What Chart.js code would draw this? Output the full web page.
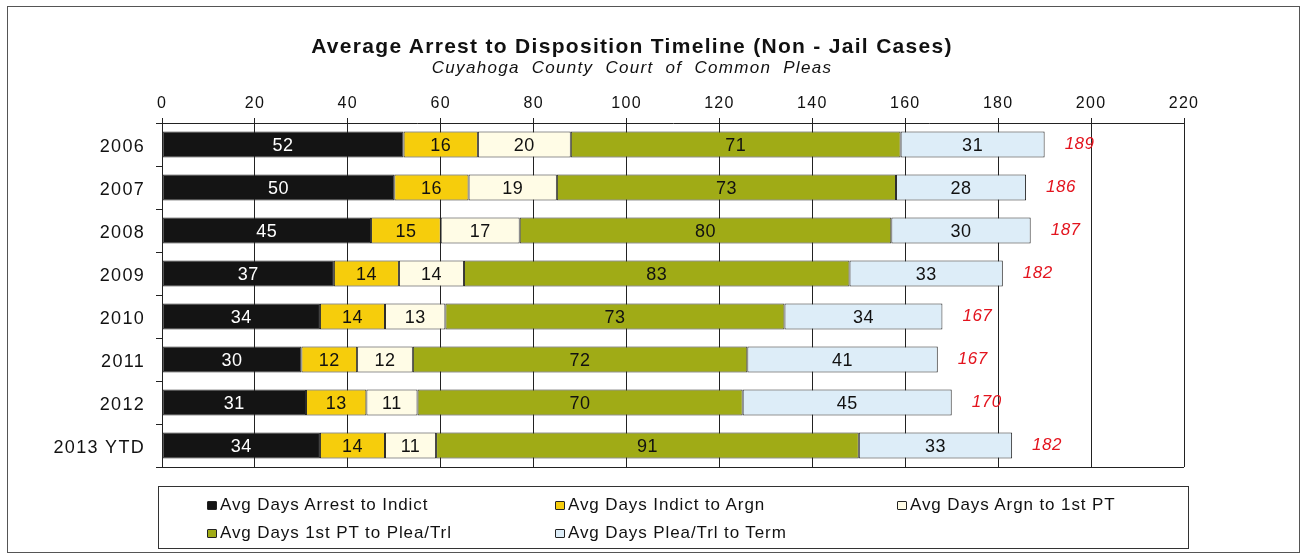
<!DOCTYPE html>
<html><head><meta charset="utf-8">
<script src="https://cdn.jsdelivr.net/npm/chart.js@4"></script>
<style>
html,body{margin:0;padding:0;background:#fff;}
#wrap{position:relative;width:1306px;height:558px;overflow:hidden;background:#fff;font-family:"Liberation Sans",Arial,sans-serif;color:#111;}
#frame{position:absolute;left:7px;top:6px;width:1291px;height:545px;border:1px solid #555;}
#c{position:absolute;left:0;top:0;}
#title{position:absolute;left:0;width:1264px;top:34px;line-height:24px;text-align:center;font-weight:bold;font-size:21px;letter-spacing:1.3px;white-space:pre;}
#subtitle{position:absolute;left:0;width:1264px;top:58px;line-height:20px;text-align:center;font-style:italic;font-size:17px;letter-spacing:1.3px;white-space:pre;}
#legend{position:absolute;left:158px;top:486px;width:1029px;height:61px;border:1px solid #333;font-size:17px;}
.li{position:absolute;display:flex;align-items:center;white-space:nowrap;letter-spacing:0.9px;transform:translateY(-50%);}
.sw{width:8px;height:7px;border:1px solid #222;border-radius:1px;margin-right:3px;}
</style></head>
<body>
<div id="wrap">
<div id="frame"></div>
<canvas id="c" width="1306" height="558"></canvas>
<div id="title"></div>
<div id="subtitle"></div>
<div id="legend"></div>
</div>
<script>
const categories = ['2006','2007','2008','2009','2010','2011','2012','2013 YTD'];
const seriesNames = ['Avg Days Arrest to Indict','Avg Days Indict to Argn','Avg Days Argn to 1st PT','Avg Days 1st PT to Plea/Trl','Avg Days Plea/Trl to Term'];
const arrestToIndict = [52,50,45,37,34,30,31,34];
const indictToArgn   = [16,16,15,14,14,12,13,14];
const argnTo1stPT    = [20,19,17,14,13,12,11,11];
const firstPTToPlea  = [71,73,80,83,73,72,70,91];
const pleaToTerm     = [31,28,30,33,34,41,45,33];
const totals         = [189,186,187,182,167,167,170,182];
const xTicksMin = 0, xTicksMax = 220, xTickStep = 20;
const seriesColors = ['#141414','#F6CD0C','#FFFCE6','#A0AB16','#DDEDF8'];
const labelColors  = ['#ffffff','#111111','#111111','#111111','#111111'];
const titleText = 'Average Arrest to Disposition Timeline (Non - Jail Cases)';
const subtitleText = 'Cuyahoga  County  Court  of  Common  Pleas';
const FONT = '"Liberation Sans", Arial, sans-serif';
const LS = '1.3px';

document.getElementById('title').textContent = titleText;
document.getElementById('subtitle').textContent = subtitleText;

const seriesValues = [arrestToIndict, indictToArgn, argnTo1stPT, firstPTToPlea, pleaToTerm];

const spacing = {
  id:'spacing',
  beforeUpdate(chart){ chart.ctx.letterSpacing = LS; },
  beforeDraw(chart){ chart.ctx.letterSpacing = LS; }
};

const frameLines = {
  id:'frameLines',
  afterDraw(chart){
    const {ctx, chartArea:a} = chart;
    ctx.save();
    ctx.strokeStyle = '#222'; ctx.lineWidth = 1;
    ctx.beginPath();
    ctx.moveTo(a.left, Math.round(a.bottom)+0.5);
    ctx.lineTo(a.right, Math.round(a.bottom)+0.5);
    ctx.stroke();
    ctx.restore();
  }
};

const valueLabels = {
  id:'valueLabels',
  afterDatasetsDraw(chart){
    const ctx = chart.ctx;
    ctx.save();
    ctx.letterSpacing = '0.5px';
    ctx.font = '18px ' + FONT;
    ctx.textAlign = 'center';
    ctx.textBaseline = 'middle';
    chart.data.datasets.forEach((ds, i) => {
      const meta = chart.getDatasetMeta(i);
      meta.data.forEach((el, j) => {
        const p = el.getProps(['x','base','y'], true);
        ctx.fillStyle = labelColors[i];
        ctx.fillText(String(ds.data[j]), (p.x + p.base) / 2, p.y + 2);
      });
    });
    const last = chart.getDatasetMeta(chart.data.datasets.length - 1);
    ctx.font = 'italic 17px ' + FONT;
    ctx.fillStyle = '#E3141E';
    ctx.textAlign = 'left';
    last.data.forEach((el, j) => {
      ctx.fillText(String(totals[j]), el.x + 20, el.y);
    });
    ctx.restore();
  }
};

const chart = new Chart(document.getElementById('c'), {
  type: 'bar',
  data: {
    labels: categories,
    datasets: seriesValues.map((vals, i) => ({
      label: seriesNames[i],
      data: vals,
      backgroundColor: seriesColors[i],
      borderColor: '#2a2a2a',
      borderWidth: 1,
      borderSkipped: false,
      categoryPercentage: 1,
      barPercentage: 0.6
    }))
  },
  options: {
    indexAxis: 'y',
    responsive: false,
    animation: false,
    devicePixelRatio: 1,
    layout: { padding: { left: 10, right: 122, top: 88, bottom: 91 } },
    plugins: {
      legend: { display: false },
      tooltip: { enabled: false },
      title: { display: false },
      subtitle: { display: false }
    },
    scales: {
      x: {
        position: 'top', stacked: true, min: xTicksMin, max: xTicksMax,
        ticks: { stepSize: xTickStep, color: '#111', font: { family: FONT, size: 16 }, padding: 5, maxRotation: 0 },
        grid: { color: '#222', lineWidth: 1, tickLength: 5 },
        border: { color: '#222' },
        afterFit(a){ a.height = 35; }
      },
      y: {
        stacked: true,
        ticks: { color: '#111', font: { family: FONT, size: 18 }, padding: 11, labelOffset: 3 },
        grid: { offset: true, drawOnChartArea: false, color: '#222', tickLength: 6 },
        border: { color: '#222' },
        afterFit(a){ a.width = 152; }
      }
    }
  },
  plugins: [spacing, valueLabels, frameLines]
});

// HTML legend built from the chart's datasets
const legendPos = [[48,18],[396,18],[738,18],[48,46],[396,46]];
const lg = document.getElementById('legend');
chart.data.datasets.forEach((ds, i) => {
  const item = document.createElement('div');
  item.className = 'li';
  item.style.left = legendPos[i][0] + 'px';
  item.style.top = legendPos[i][1] + 'px';
  const sw = document.createElement('span');
  sw.className = 'sw';
  sw.style.background = ds.backgroundColor;
  const t = document.createElement('span');
  t.textContent = ds.label;
  item.appendChild(sw); item.appendChild(t);
  lg.appendChild(item);
});
</script>
</body></html>
